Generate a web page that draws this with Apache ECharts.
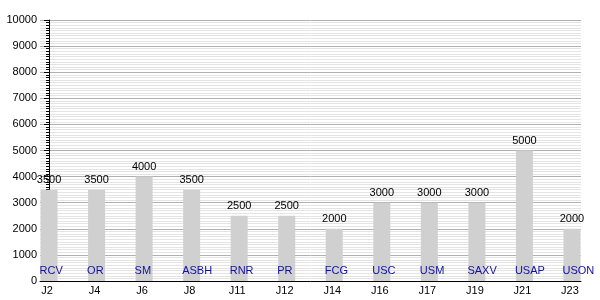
<!DOCTYPE html>
<html>
<head>
<meta charset="utf-8">
<script src="https://cdn.jsdelivr.net/npm/echarts@6/dist/echarts.min.js"></script>
<style>html,body{margin:0;padding:0;background:#fff}#c{width:600px;height:300px}</style>
</head>
<body>
<div id="c"></div>
<script>
var categories = ['J2','J4','J6','J8','J11','J12','J14','J16','J17','J19','J21','J23'];
var codes = ['RCV','OR','SM','ASBH','RNR','PR','FCG','USC','USM','SAXV','USAP','USON'];
var values = [3500,3500,4000,3500,2500,2500,2000,3000,3000,3000,5000,2000];

var font = 'Arial, "Liberation Sans", sans-serif';
var chart = echarts.init(document.getElementById('c'), null, {renderer:'canvas'});
var idx = categories.map(function(c,i){return i;});
chart.setOption({
  animation:false,
  grid:{left:40,right:19,top:20,bottom:19,containLabel:false},
  xAxis:{
    type:'value', min:-0.19, max:11.19,
    axisLine:{show:true,onZero:false,lineStyle:{color:'#000',width:1}},
    axisTick:{show:false},
    splitLine:{show:false},
    axisLabel:{customValues:idx,formatter:function(v){return categories[Math.round(v)];},color:'#000',fontSize:11,fontFamily:font,margin:4,padding:[0,4,0,0]}
  },
  yAxis:{
    type:'value', min:0, max:10000, interval:1000,
    axisLine:{show:true,lineStyle:{color:'#000',width:1}},
    axisTick:{show:true,length:5,lineStyle:{color:'#000'}},
    minorTick:{show:true,splitNumber:10,length:3,lineStyle:{color:'#000'}},
    splitLine:{show:true,lineStyle:{color:'#b0b0b0',width:1}},
    minorSplitLine:{show:true,lineStyle:{color:'#e4e4e4',width:1}},
    axisLabel:{color:'#000',fontSize:11,fontFamily:font,margin:3,formatter:function(v){return String(v);}}
  },
  series:[
    {type:'bar', barWidth:17, itemStyle:{color:'#d0d0d0'},
     data: values.map(function(v,i){return [i,v];}),
     label:{show:true,position:'top',distance:4,color:'#000',fontSize:11,fontFamily:font,
       formatter:function(p){return p.value[1];}}
    },
    {type:'scatter', symbolSize:0, silent:true, itemStyle:{opacity:1},
     data: codes.map(function(c,i){return {value:[i,0],name:c};}),
     label:{show:true,position:[-9.5,-10],align:'left',verticalAlign:'middle',color:'#0f0fa8',fontSize:11,fontFamily:font,formatter:'{b}'}
    }
  ]
});
</script>
</body>
</html>
